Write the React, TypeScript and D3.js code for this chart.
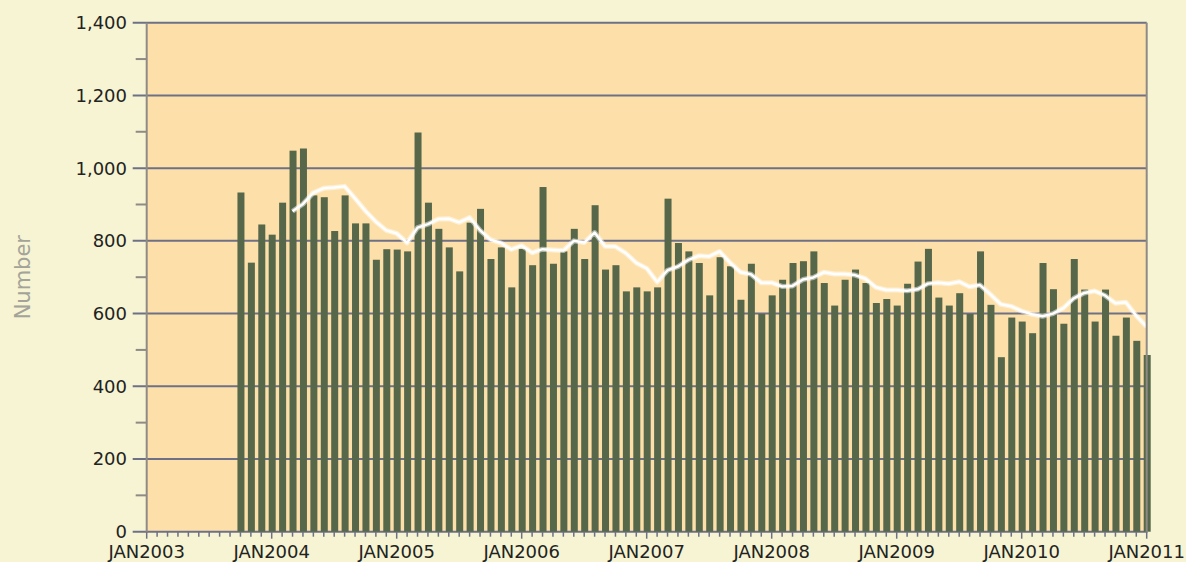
import React from "react";
import * as d3 from "d3";

// monthly counts, first bar is OCT2003
const startMonth = 9; // months after JAN2003 of the first bar (October)
const values2003 = [933, 740, 845];
const values2004 = [817, 905, 1048, 1054, 925, 920, 827, 925, 848, 848, 748, 777];
const values2005 = [776, 771, 1098, 905, 833, 782, 716, 850, 888, 750, 782, 672];
const values2006 = [778, 733, 948, 737, 771, 833, 750, 898, 721, 733, 661, 672];
const values2007 = [661, 672, 916, 794, 771, 739, 650, 755, 730, 638, 737, 599];
const values2008 = [650, 693, 739, 744, 771, 684, 622, 693, 721, 684, 629, 640];
const values2009 = [622, 682, 743, 778, 644, 622, 656, 599, 771, 624, 480, 589];
const values2010 = [578, 546, 739, 667, 572, 750, 666, 578, 666, 539, 589, 525];
const values2011 = [486];

const yTicks = [0, 200, 400, 600, 800, 1000, 1200, 1400];
const xTickLabels = ["JAN2003", "JAN2004", "JAN2005", "JAN2006", "JAN2007", "JAN2008", "JAN2009", "JAN2010", "JAN2011"];
const windowSize = 6; // trailing moving average

const W = 1186;
const H = 562;
const left = 146.7;
const right = 1146.7;
const top = 22.7;
const bottom = 531.7;

const gridColor = "#6e7086";
const axisColor = "#8e8a86";
const barColor = "#56674a";
const font = "DejaVu Sans, Verdana, sans-serif";

export default function App() {
  const values = [
    ...values2003,
    ...values2004,
    ...values2005,
    ...values2006,
    ...values2007,
    ...values2008,
    ...values2009,
    ...values2010,
    ...values2011,
  ];
  const bars = values.map((v, i) => ({ m: startMonth + i, v }));

  const nMonths = xTickLabels.length * 12 - 12;
  const x = d3.scaleLinear().domain([0, nMonths]).range([left, right]);
  const y = d3.scaleLinear().domain([0, 1400]).range([bottom, top]);

  const avg = bars
    .map((b, i) =>
      i < windowSize - 1
        ? null
        : { m: b.m, v: d3.mean(values.slice(i - windowSize + 1, i + 1)) as number }
    )
    .filter((d) => d !== null) as { m: number; v: number }[];

  const line = d3
    .line<{ m: number; v: number }>()
    .x((d) => x(d.m))
    .y((d) => y(d.v));

  const minorY = d3.range(100, 1400, 200);
  const monthTicks = d3.range(0, nMonths + 1);
  const barW = 7;

  return (
    <div style={{ position: "absolute", left: 0, top: 0 }}>
      <svg width={W} height={H} style={{ display: "block", background: "#f6f4d2" }}>
        <rect x={left} y={top} width={right - left} height={bottom - top} fill="#fde0a9" />

        {yTicks.map((t) => (
          <line key={"g" + t} x1={left - 14} x2={right} y1={y(t)} y2={y(t)} stroke={gridColor} strokeWidth={2} />
        ))}
        {minorY.map((t) => (
          <line key={"mn" + t} x1={left - 11} x2={left} y1={y(t)} y2={y(t)} stroke={axisColor} strokeWidth={2} />
        ))}

        {bars.map((b) => (
          <rect
            key={b.m}
            x={x(b.m) - barW / 2 + 0.5}
            y={y(b.v)}
            width={barW}
            height={bottom - y(b.v)}
            fill={barColor}
          />
        ))}

        <path d={line(avg) ?? ""} fill="none" stroke="#ffffff" strokeOpacity={0.5} strokeWidth={5} strokeLinejoin="round" />
        <path d={line(avg) ?? ""} fill="none" stroke="#ffffff" strokeWidth={2.5} strokeLinejoin="round" />

        <line x1={left} x2={left} y1={top} y2={bottom + 1} stroke={axisColor} strokeWidth={2} />
        <line x1={right} x2={right} y1={top} y2={bottom + 1} stroke={axisColor} strokeWidth={2} />

        {monthTicks.map((m) => (
          <line
            key={"t" + m}
            x1={x(m)}
            x2={x(m)}
            y1={bottom}
            y2={bottom + (m % 12 === 0 ? 7 : 5)}
            stroke={gridColor}
            strokeWidth={1.5}
          />
        ))}

        {yTicks.map((t) => (
          <text
            key={"yl" + t}
            x={127}
            y={y(t)}
            dy="0.36em"
            textAnchor="end"
            fontFamily={font}
            fontSize={18}
            fill="#222"
          >
            {d3.format(",")(t)}
          </text>
        ))}

        {xTickLabels.map((lab, i) => (
          <text
            key={lab}
            x={x(i * 12)}
            y={557.5}
            textAnchor="middle"
            fontFamily={font}
            fontSize={18}
            fill="#222"
          >
            {lab}
          </text>
        ))}

        <text
          transform={`translate(30,${(top + bottom) / 2}) rotate(-90)`}
          textAnchor="middle"
          fontFamily={font}
          fontSize={21}
          fill="#a3a39a"
        >
          Number
        </text>
      </svg>
    </div>
  );
}
